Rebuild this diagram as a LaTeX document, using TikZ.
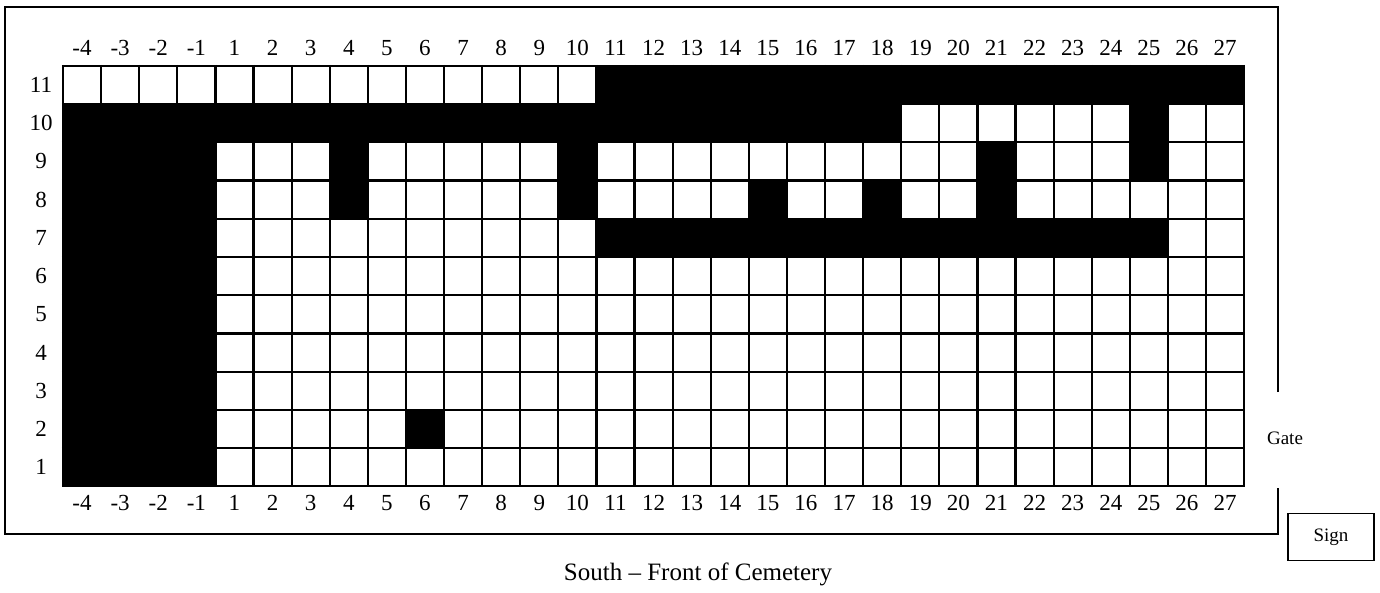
\documentclass[tikz,border=0pt]{standalone}
\usepackage{fontspec}
\setmainfont{Liberation Serif}
\begin{document}
\begin{tikzpicture}[x=1pt,y=-1pt,
  lbl/.style={inner sep=0pt,font=\fontsize{23}{26}\selectfont},
  small/.style={inner sep=0pt,font=\fontsize{19}{22}\selectfont},
  gridline/.style={line width=2.2pt},
  frame/.style={line width=1.8pt}]
\useasboundingbox (0,0) rectangle (1380,593);
\def\gx{63}\def\gy{66}\def\cw{38.1}\def\rh{38.2}
\newcommand\blk[4]{\fill[black] ({\gx+#1*\cw},{\gy+(11-#4)*\rh}) rectangle ({\gx+#2*\cw},{\gy+(12-#3)*\rh});}
% grid lines
\foreach \i in {0,...,31}
  \draw[gridline] ({\gx+\i*\cw},{\gy-1.1}) -- ({\gx+\i*\cw},{\gy+11*\rh+1.1});
\foreach \j in {0,...,11}
  \draw[gridline] ({\gx-1.1},{\gy+\j*\rh}) -- ({\gx+31*\cw+1.1},{\gy+\j*\rh});
% black regions
\blk{0}{4}{1}{10}
\blk{0}{22}{10}{10}
\blk{14}{31}{11}{11}
\blk{28}{29}{9}{10}
\blk{7}{8}{8}{9}
\blk{13}{14}{8}{9}
\blk{24}{25}{8}{9}
\blk{18}{19}{8}{8}
\blk{21}{22}{8}{8}
\blk{14}{29}{7}{7}
\blk{9}{10}{2}{2}
% column labels
\foreach \l [count=\k from 0] in {-4,-3,-2,-1,1,2,...,27} {
  \node[lbl] (top\k) at ({\gx+(\k+0.5)*\cw},48) {\l};
  \node[lbl] (bot\k) at ({\gx+(\k+0.5)*\cw},503) {\l};
}
% row labels
\foreach \r in {1,...,11}
  \node[lbl] (row\r) at (41,{\gy+(11.5-\r)*\rh}) {\r};
% frame
\draw[frame] (1278,392) -- (1278,7) -- (5,7) -- (5,534) -- (1278,534) -- (1278,488);
\node[small] (gate) at (1285,438) {Gate};
\node[small,draw,line width=1.6pt,minimum width=86pt,minimum height=47pt] (sign) at (1331,537) {Sign};
\node[inner sep=0pt,font=\fontsize{25}{29}\selectfont] (caption) at (698,574) {South -- Front of Cemetery};
\end{tikzpicture}
\end{document}
